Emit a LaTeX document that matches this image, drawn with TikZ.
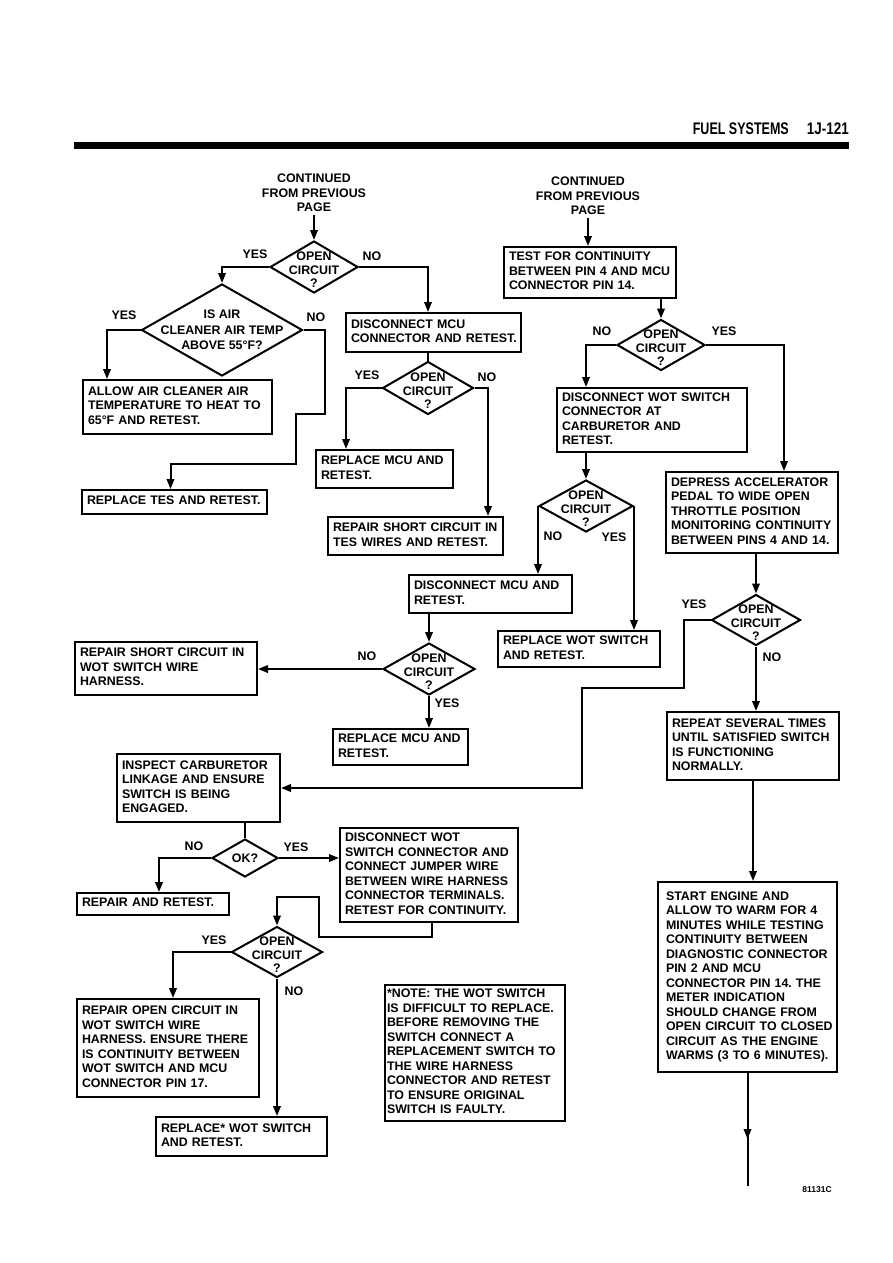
\documentclass[tikz,border=0pt]{standalone}
\usepackage{fontspec}
\setmainfont{Liberation Sans}
\usepackage{graphicx}
\usetikzlibrary{shapes.geometric,arrows.meta}
\frenchspacing
\newcommand\tl[1]{\begin{tabular}{@{}l@{}}#1\end{tabular}}
\tikzset{
  lw/.style={line width=2pt},
  arr/.style={line width=2pt,-{Triangle[length=10pt,width=7.5pt]}},
  bx/.code 2 args={\pgfmathsetmacro\bxtw{#1-10}\edef\bxnext{\noexpand\pgfkeysalso{draw,line width=2pt,inner xsep=5pt,inner ysep=0pt,minimum width=#1pt,minimum height=#2pt,text width=\bxtw pt,align=left}}\bxnext},
  dia/.style 2 args={diamond,draw,line width=2pt,inner sep=0pt,minimum width=#1pt,minimum height=#2pt},
  dtxt/.style={align=center,inner sep=0pt,font=\fontsize{12.4}{13.5}\selectfont\bfseries},
  yn/.style={inner sep=0pt},
}
\begin{document}
\begin{tikzpicture}[x=1pt,y=-1pt,every node/.style={font=\fontsize{12.4}{14.5}\selectfont\bfseries}]
\useasboundingbox (0,0) rectangle (893,1263);
\fill[white] (0,0) rectangle (893,1263);
% header
\fill (74,142) rectangle (849,149);
\node[anchor=base east,inner sep=0pt,font=\fontsize{16.8}{18}\selectfont\bfseries] (hdrA) at (789,134) {\scalebox{0.745}[1]{FUEL SYSTEMS}};
\node[anchor=base east,inner sep=0pt,font=\fontsize{16.8}{18}\selectfont\bfseries] (hdrB) at (849,134) {\scalebox{0.8}[1]{1J-121}};
% continued
\node[align=center] (contL) at (314,193) {CONTINUED\\FROM PREVIOUS\\PAGE};
\node[align=center] (contR) at (588,196) {CONTINUED\\FROM PREVIOUS\\PAGE};
% boxes
\node[bx={172}{51}] (tcont) at (590,272.5) {\tl{TEST FOR CONTINUITY\\BETWEEN PIN 4 AND MCU\\CONNECTOR PIN 14.}};
\node[bx={175}{39}] (dmcu) at (433.5,332.5) {\tl{DISCONNECT MCU\\CONNECTOR AND RETEST.}};
\node[bx={189}{54}] (allow) at (177.5,407) {\tl{ALLOW AIR CLEANER AIR\\TEMPERATURE TO HEAT TO\\65°F AND RETEST.}};
\node[bx={185}{24}] (tes) at (174.5,502) {\tl{REPLACE TES AND RETEST.}};
\node[bx={137}{38}] (rmcuA) at (384.5,469) {\tl{REPLACE MCU AND\\RETEST.}};
\node[bx={175}{38}] (rstes) at (415.5,536) {\tl{REPAIR SHORT CIRCUIT IN\\TES WIRES AND RETEST.}};
\node[bx={190}{64}] (dwot) at (652,420) {\tl{DISCONNECT WOT SWITCH\\CONNECTOR AT\\CARBURETOR AND\\RETEST.}};
\node[bx={172}{81}] (depress) at (752,512.5) {\tl{DEPRESS ACCELERATOR\\PEDAL TO WIDE OPEN\\THROTTLE POSITION\\MONITORING CONTINUITY\\BETWEEN PINS 4 AND 14.}};
\node[bx={163}{38}] (dmcuB) at (490.5,594) {\tl{DISCONNECT MCU AND\\RETEST.}};
\node[bx={162}{36}] (rwot) at (579,649) {\tl{REPLACE WOT SWITCH\\AND RETEST.}};
\node[bx={182}{53}] (rswot) at (166,668.5) {\tl{REPAIR SHORT CIRCUIT IN\\WOT SWITCH WIRE\\HARNESS.}};
\node[bx={135}{36}] (rmcuB) at (400.5,747) {\tl{REPLACE MCU AND\\RETEST.}};
\node[bx={172}{68}] (rep) at (753,746) {\tl{REPEAT SEVERAL TIMES\\UNTIL SATISFIED SWITCH\\IS FUNCTIONING\\NORMALLY.}};
\node[bx={163}{68}] (insp) at (198.5,788) {\tl{INSPECT CARBURETOR\\LINKAGE AND ENSURE\\SWITCH IS BEING\\ENGAGED.}};
\node[bx={152}{22}] (repair) at (153,904) {\tl{REPAIR AND RETEST.}};
\node[bx={178}{94}] (djump) at (429,875) {\tl{DISCONNECT WOT\\SWITCH CONNECTOR AND\\CONNECT JUMPER WIRE\\BETWEEN WIRE HARNESS\\CONNECTOR TERMINALS.\\RETEST FOR CONTINUITY.}};
\node[bx={182}{98}] (ropen) at (168,1048) {\tl{REPAIR OPEN CIRCUIT IN\\WOT SWITCH WIRE\\HARNESS. ENSURE THERE\\IS CONTINUITY BETWEEN\\WOT SWITCH AND MCU\\CONNECTOR PIN 17.}};
\node[bx={171}{39}] (rstar) at (241.5,1136.5) {\tl{REPLACE* WOT SWITCH\\AND RETEST.}};
\node[bx={180}{136},inner xsep=2pt,text width=176pt] (note) at (475,1053) {\tl{*NOTE: THE WOT SWITCH\\IS DIFFICULT TO REPLACE.\\BEFORE REMOVING THE\\SWITCH CONNECT A\\REPLACEMENT SWITCH TO\\THE WIRE HARNESS\\CONNECTOR AND RETEST\\TO ENSURE ORIGINAL\\SWITCH IS FAULTY.}};
\node[bx={179}{190},inner xsep=8pt,text width=163pt] (start) at (747.5,977) {\tl{START ENGINE AND\\ALLOW TO WARM FOR 4\\MINUTES WHILE TESTING\\CONTINUITY BETWEEN\\DIAGNOSTIC CONNECTOR\\PIN 2 AND MCU\\CONNECTOR PIN 14. THE\\METER INDICATION\\SHOULD CHANGE FROM\\OPEN CIRCUIT TO CLOSED\\CIRCUIT AS THE ENGINE\\WARMS (3 TO 6 MINUTES).}};
% diamonds
\node[dia={88}{52},label={[dtxt,yshift=-3pt]center:OPEN\\CIRCUIT\\?}] (dA) at (314,267) {};
\node[dia={161}{92},label={[dtxt,font=\fontsize{12.4}{15.5}\selectfont\bfseries]center:IS AIR\\CLEANER AIR TEMP\\ABOVE 55°F?}] (dB) at (222,330) {};
\node[dia={91}{53},label={[dtxt,yshift=-3pt]center:OPEN\\CIRCUIT\\?}] (dC) at (428,388) {};
\node[dia={88}{51},label={[dtxt,yshift=-3pt]center:OPEN\\CIRCUIT\\?}] (dD) at (661,345) {};
\node[dia={94}{52},label={[dtxt,yshift=-3pt]center:OPEN\\CIRCUIT\\?}] (dE) at (586,506) {};
\node[dia={89}{51},label={[dtxt,yshift=-3pt]center:OPEN\\CIRCUIT\\?}] (dF) at (756,620) {};
\node[dia={92}{52},label={[dtxt,yshift=-3pt]center:OPEN\\CIRCUIT\\?}] (dG) at (429,669) {};
\node[dia={66}{38},label={[dtxt]center:OK?}] (dOK) at (245,858) {};
\node[dia={91}{51},label={[dtxt,yshift=-3pt]center:OPEN\\CIRCUIT\\?}] (dH) at (277,952) {};
% yes / no labels
\node[yn] (yA) at (255,254) {YES};
\node[yn] (nA) at (372,256) {NO};
\node[yn] (yB) at (124,315) {YES};
\node[yn] (nB) at (316,317) {NO};
\node[yn] (yC) at (367,375) {YES};
\node[yn] (nC) at (487,377) {NO};
\node[yn] (nD) at (602,331) {NO};
\node[yn] (yD) at (724,331) {YES};
\node[yn] (nE) at (553,536) {NO};
\node[yn] (yE) at (614,537) {YES};
\node[yn] (yF) at (694,604) {YES};
\node[yn] (nF) at (772,657) {NO};
\node[yn] (nG) at (367,656) {NO};
\node[yn] (yG) at (447,703) {YES};
\node[yn] (nOK) at (194,846) {NO};
\node[yn] (yOK) at (296,847) {YES};
\node[yn] (yH) at (214,940) {YES};
\node[yn] (nH) at (294,991) {NO};
\node[inner sep=0pt,font=\fontsize{8.5}{10}\selectfont\bfseries] (fig) at (817,1190) {81131C};
% connectors
\draw[arr] (contL.south) -- (contL.south |- dA.north);
\draw[arr] (dA.west) -| (dB.north);
\draw[arr] (dA.east) -| (dC.north |- dmcu.north);
\draw[arr] (dB.west) -| ([xshift=25pt]allow.north west);
\draw[arr] (dB.east) -| (325,414) -| (296,464) -| ([xshift=-4pt]tes.north);
\draw[lw] (dC.north |- dmcu.south) -- (dC.north);
\draw[arr] (dC.west) -| ([xshift=31pt]rmcuA.north west);
\draw[arr] (dC.east) -| ([xshift=-16pt]rstes.north east);
\draw[arr] (contR.south) -- (contR.south |- tcont.north);
\draw[arr] (dD.north |- tcont.south) -- (dD.north);
\draw[arr] (dD.west) -| (dE.north |- dwot.north);
\draw[arr] (dD.east) -| ([xshift=32pt]depress.north);
\draw[arr] (dE.north |- dwot.south) -- (dE.north);
\draw[arr] (dE.west) -- (dE.west |- dmcuB.north);
\draw[arr] (dE.east) -- (dE.east |- rwot.north);
\draw[arr] (dF.north |- depress.south) -- (dF.north);
\draw[arr] (dF.west) -| (684,688) -| (582,788) -- (insp.east);
\draw[arr] (dF.south) -- (dF.south |- rep.north);
\draw[arr] (rep.south) -- (rep.south |- start.north);
\coordinate (endc) at ([yshift=-113pt]start.south);
\draw[arr] (start.south) -- ([yshift=-66pt]start.south);
\draw[lw] ([yshift=-60pt]start.south) -- (endc);
\draw[arr] (dG.north |- dmcuB.south) -- (dG.north);
\draw[arr] (dG.west) -- (dG.west -| rswot.east);
\draw[arr] (dG.south) -- (dG.south |- rmcuB.north);
\draw[lw] (dOK.north |- insp.south) -- (dOK.north);
\draw[arr] (dOK.west) -| ([xshift=6pt]repair.north);
\draw[arr] (dOK.east) -- (dOK.east -| djump.west);
\draw[arr] ([xshift=3pt]djump.south) |- (319,937) |- (dH.north |- 0,897) -- (dH.north);
\draw[arr] (dH.west) -| ([xshift=5pt]ropen.north);
\draw[arr] (dH.south) -- (dH.south |- rstar.north);
\end{tikzpicture}
\end{document}
